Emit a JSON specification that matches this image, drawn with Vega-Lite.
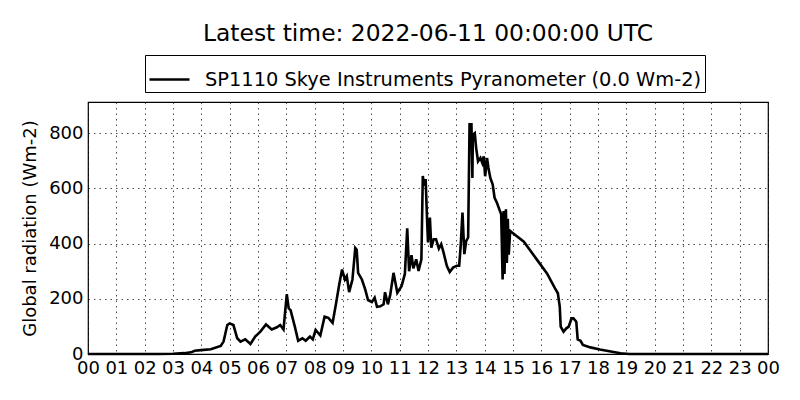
{
  "$schema": "https://vega.github.io/schema/vega-lite/v6.json",
  "width": 680,
  "height": 252,
  "autosize": "none",
  "padding": {"left": 88, "top": 102, "right": 32, "bottom": 46},
  "background": "white",
  "title": {
    "text": "Latest time: 2022-06-11 00:00:00 UTC",
    "fontSize": 23.4,
    "fontWeight": "normal",
    "color": "black",
    "anchor": "middle",
    "offset": 8
  },
  "data": {
    "values": [
      {"time": "2022-06-10T00:00:00Z", "radiation": 0},
      {"time": "2022-06-10T02:30:00Z", "radiation": 0},
      {"time": "2022-06-10T03:00:00Z", "radiation": 1},
      {"time": "2022-06-10T03:24:00Z", "radiation": 3},
      {"time": "2022-06-10T03:38:00Z", "radiation": 6},
      {"time": "2022-06-10T03:46:00Z", "radiation": 12},
      {"time": "2022-06-10T03:59:00Z", "radiation": 14},
      {"time": "2022-06-10T04:20:00Z", "radiation": 17},
      {"time": "2022-06-10T04:41:00Z", "radiation": 29},
      {"time": "2022-06-10T04:47:00Z", "radiation": 45},
      {"time": "2022-06-10T04:55:00Z", "radiation": 105},
      {"time": "2022-06-10T05:00:00Z", "radiation": 111},
      {"time": "2022-06-10T05:08:00Z", "radiation": 105},
      {"time": "2022-06-10T05:16:00Z", "radiation": 57},
      {"time": "2022-06-10T05:23:00Z", "radiation": 45},
      {"time": "2022-06-10T05:33:00Z", "radiation": 53},
      {"time": "2022-06-10T05:44:00Z", "radiation": 36},
      {"time": "2022-06-10T05:54:00Z", "radiation": 63},
      {"time": "2022-06-10T06:05:00Z", "radiation": 81},
      {"time": "2022-06-10T06:17:00Z", "radiation": 107},
      {"time": "2022-06-10T06:29:00Z", "radiation": 89},
      {"time": "2022-06-10T06:40:00Z", "radiation": 97},
      {"time": "2022-06-10T06:47:00Z", "radiation": 105},
      {"time": "2022-06-10T06:54:00Z", "radiation": 89},
      {"time": "2022-06-10T07:01:00Z", "radiation": 217},
      {"time": "2022-06-10T07:05:00Z", "radiation": 165},
      {"time": "2022-06-10T07:09:00Z", "radiation": 159},
      {"time": "2022-06-10T07:18:00Z", "radiation": 99},
      {"time": "2022-06-10T07:25:00Z", "radiation": 48},
      {"time": "2022-06-10T07:34:00Z", "radiation": 57},
      {"time": "2022-06-10T07:41:00Z", "radiation": 48},
      {"time": "2022-06-10T07:50:00Z", "radiation": 63},
      {"time": "2022-06-10T07:56:00Z", "radiation": 53},
      {"time": "2022-06-10T08:02:00Z", "radiation": 87},
      {"time": "2022-06-10T08:12:00Z", "radiation": 67},
      {"time": "2022-06-10T08:21:00Z", "radiation": 135},
      {"time": "2022-06-10T08:29:00Z", "radiation": 131},
      {"time": "2022-06-10T08:38:00Z", "radiation": 113},
      {"time": "2022-06-10T08:45:00Z", "radiation": 180},
      {"time": "2022-06-10T08:52:00Z", "radiation": 252},
      {"time": "2022-06-10T08:58:00Z", "radiation": 306},
      {"time": "2022-06-10T09:04:00Z", "radiation": 270},
      {"time": "2022-06-10T09:08:00Z", "radiation": 282},
      {"time": "2022-06-10T09:13:00Z", "radiation": 224},
      {"time": "2022-06-10T09:20:00Z", "radiation": 270},
      {"time": "2022-06-10T09:26:00Z", "radiation": 384},
      {"time": "2022-06-10T09:29:00Z", "radiation": 378},
      {"time": "2022-06-10T09:32:00Z", "radiation": 294},
      {"time": "2022-06-10T09:40:00Z", "radiation": 270},
      {"time": "2022-06-10T09:47:00Z", "radiation": 234},
      {"time": "2022-06-10T09:53:00Z", "radiation": 195},
      {"time": "2022-06-10T10:01:00Z", "radiation": 188},
      {"time": "2022-06-10T10:07:00Z", "radiation": 204},
      {"time": "2022-06-10T10:12:00Z", "radiation": 171},
      {"time": "2022-06-10T10:19:00Z", "radiation": 173},
      {"time": "2022-06-10T10:26:00Z", "radiation": 180},
      {"time": "2022-06-10T10:29:00Z", "radiation": 224},
      {"time": "2022-06-10T10:35:00Z", "radiation": 180},
      {"time": "2022-06-10T10:40:00Z", "radiation": 214},
      {"time": "2022-06-10T10:47:00Z", "radiation": 294},
      {"time": "2022-06-10T10:51:00Z", "radiation": 258},
      {"time": "2022-06-10T10:55:00Z", "radiation": 222},
      {"time": "2022-06-10T11:04:00Z", "radiation": 246},
      {"time": "2022-06-10T11:11:00Z", "radiation": 290},
      {"time": "2022-06-10T11:16:00Z", "radiation": 455},
      {"time": "2022-06-10T11:20:00Z", "radiation": 300},
      {"time": "2022-06-10T11:25:00Z", "radiation": 358},
      {"time": "2022-06-10T11:29:00Z", "radiation": 310},
      {"time": "2022-06-10T11:35:00Z", "radiation": 343},
      {"time": "2022-06-10T11:40:00Z", "radiation": 301},
      {"time": "2022-06-10T11:46:00Z", "radiation": 343},
      {"time": "2022-06-10T11:49:00Z", "radiation": 645},
      {"time": "2022-06-10T11:52:00Z", "radiation": 610},
      {"time": "2022-06-10T11:55:00Z", "radiation": 634},
      {"time": "2022-06-10T11:58:00Z", "radiation": 488},
      {"time": "2022-06-10T12:00:00Z", "radiation": 404},
      {"time": "2022-06-10T12:04:00Z", "radiation": 494},
      {"time": "2022-06-10T12:07:00Z", "radiation": 385},
      {"time": "2022-06-10T12:12:00Z", "radiation": 416},
      {"time": "2022-06-10T12:17:00Z", "radiation": 416},
      {"time": "2022-06-10T12:23:00Z", "radiation": 382},
      {"time": "2022-06-10T12:28:00Z", "radiation": 398},
      {"time": "2022-06-10T12:33:00Z", "radiation": 367},
      {"time": "2022-06-10T12:40:00Z", "radiation": 319},
      {"time": "2022-06-10T12:46:00Z", "radiation": 297},
      {"time": "2022-06-10T12:53:00Z", "radiation": 313},
      {"time": "2022-06-10T13:01:00Z", "radiation": 320},
      {"time": "2022-06-10T13:06:00Z", "radiation": 320},
      {"time": "2022-06-10T13:09:00Z", "radiation": 386},
      {"time": "2022-06-10T13:13:00Z", "radiation": 512},
      {"time": "2022-06-10T13:17:00Z", "radiation": 362},
      {"time": "2022-06-10T13:21:00Z", "radiation": 410},
      {"time": "2022-06-10T13:25:00Z", "radiation": 422},
      {"time": "2022-06-10T13:28:00Z", "radiation": 832},
      {"time": "2022-06-10T13:32:00Z", "radiation": 832},
      {"time": "2022-06-10T13:34:00Z", "radiation": 638},
      {"time": "2022-06-10T13:35:00Z", "radiation": 794},
      {"time": "2022-06-10T13:39:00Z", "radiation": 800},
      {"time": "2022-06-10T13:42:00Z", "radiation": 746},
      {"time": "2022-06-10T13:46:00Z", "radiation": 698},
      {"time": "2022-06-10T13:51:00Z", "radiation": 710},
      {"time": "2022-06-10T13:55:00Z", "radiation": 692},
      {"time": "2022-06-10T13:58:00Z", "radiation": 716},
      {"time": "2022-06-10T14:01:00Z", "radiation": 644},
      {"time": "2022-06-10T14:05:00Z", "radiation": 710},
      {"time": "2022-06-10T14:08:00Z", "radiation": 674},
      {"time": "2022-06-10T14:12:00Z", "radiation": 638},
      {"time": "2022-06-10T14:17:00Z", "radiation": 614},
      {"time": "2022-06-10T14:21:00Z", "radiation": 566},
      {"time": "2022-06-10T14:26:00Z", "radiation": 548},
      {"time": "2022-06-10T14:31:00Z", "radiation": 524},
      {"time": "2022-06-10T14:35:00Z", "radiation": 506},
      {"time": "2022-06-10T14:38:00Z", "radiation": 270},
      {"time": "2022-06-10T14:40:00Z", "radiation": 518},
      {"time": "2022-06-10T14:42:00Z", "radiation": 290},
      {"time": "2022-06-10T14:45:00Z", "radiation": 524},
      {"time": "2022-06-10T14:47:00Z", "radiation": 330},
      {"time": "2022-06-10T14:49:00Z", "radiation": 490},
      {"time": "2022-06-10T14:51:00Z", "radiation": 360},
      {"time": "2022-06-10T14:54:00Z", "radiation": 446},
      {"time": "2022-06-10T14:58:00Z", "radiation": 440},
      {"time": "2022-06-10T15:23:00Z", "radiation": 407},
      {"time": "2022-06-10T15:51:00Z", "radiation": 341},
      {"time": "2022-06-10T16:12:00Z", "radiation": 292},
      {"time": "2022-06-10T16:29:00Z", "radiation": 238},
      {"time": "2022-06-10T16:35:00Z", "radiation": 220},
      {"time": "2022-06-10T16:39:00Z", "radiation": 172},
      {"time": "2022-06-10T16:41:00Z", "radiation": 99},
      {"time": "2022-06-10T16:47:00Z", "radiation": 81},
      {"time": "2022-06-10T16:53:00Z", "radiation": 93},
      {"time": "2022-06-10T16:58:00Z", "radiation": 99},
      {"time": "2022-06-10T17:04:00Z", "radiation": 129},
      {"time": "2022-06-10T17:08:00Z", "radiation": 129},
      {"time": "2022-06-10T17:14:00Z", "radiation": 117},
      {"time": "2022-06-10T17:17:00Z", "radiation": 53},
      {"time": "2022-06-10T17:23:00Z", "radiation": 48},
      {"time": "2022-06-10T17:28:00Z", "radiation": 33},
      {"time": "2022-06-10T17:44:00Z", "radiation": 24},
      {"time": "2022-06-10T18:04:00Z", "radiation": 16},
      {"time": "2022-06-10T18:30:00Z", "radiation": 8},
      {"time": "2022-06-10T18:48:00Z", "radiation": 3},
      {"time": "2022-06-10T19:06:00Z", "radiation": 0},
      {"time": "2022-06-11T00:00:00Z", "radiation": 0}
    ]
  },
  "mark": {"type": "line", "strokeWidth": 2.6, "interpolate": "linear"},
  "encoding": {
    "x": {
      "field": "time",
      "type": "temporal",
      "scale": {
        "type": "utc",
        "domain": [
          {"year": 2022, "month": 6, "date": 10, "hours": 0, "utc": true},
          {"year": 2022, "month": 6, "date": 11, "hours": 0, "utc": true}
        ]
      },
      "axis": {
        "title": null,
        "format": "%H",
        "tickCount": 24,
        "labelFontSize": 18,
        "labelPadding": 5,
        "labelFlush": false,
        "labelOverlap": false
      }
    },
    "y": {
      "field": "radiation",
      "type": "quantitative",
      "scale": {"domain": [0, 913], "nice": false},
      "axis": {
        "title": "Global radiation (Wm-2)",
        "values": [0, 200, 400, 600, 800],
        "labelFontSize": 18,
        "labelPadding": 5,
        "titleFontSize": 18,
        "titleFontWeight": "normal",
        "titlePadding": 9
      }
    },
    "color": {
      "datum": "SP1110 Skye Instruments Pyranometer (0.0 Wm-2)",
      "type": "nominal",
      "scale": {"range": ["black"]},
      "legend": {
        "title": null,
        "orient": "none",
        "legendX": 57,
        "legendY": -47,
        "direction": "horizontal",
        "symbolType": "stroke",
        "symbolSize": 1600,
        "symbolStrokeWidth": 2.6,
        "labelFontSize": 19.4,
        "labelLimit": 0,
        "labelOffset": 14,
        "padding": 3,
        "strokeColor": "black",
        "fillColor": "white",
        "cornerRadius": 0
      }
    }
  },
  "config": {
    "font": "DejaVu Sans",
    "view": {"stroke": "black", "strokeWidth": 1.2},
    "axis": {
      "domain": false,
      "ticks": false,
      "grid": true,
      "gridColor": "black",
      "gridOpacity": 1,
      "gridWidth": 0.7,
      "gridDash": [1.5, 4],
      "labelColor": "black",
      "titleColor": "black"
    },
    "legend": {"labelColor": "black"}
  }
}
